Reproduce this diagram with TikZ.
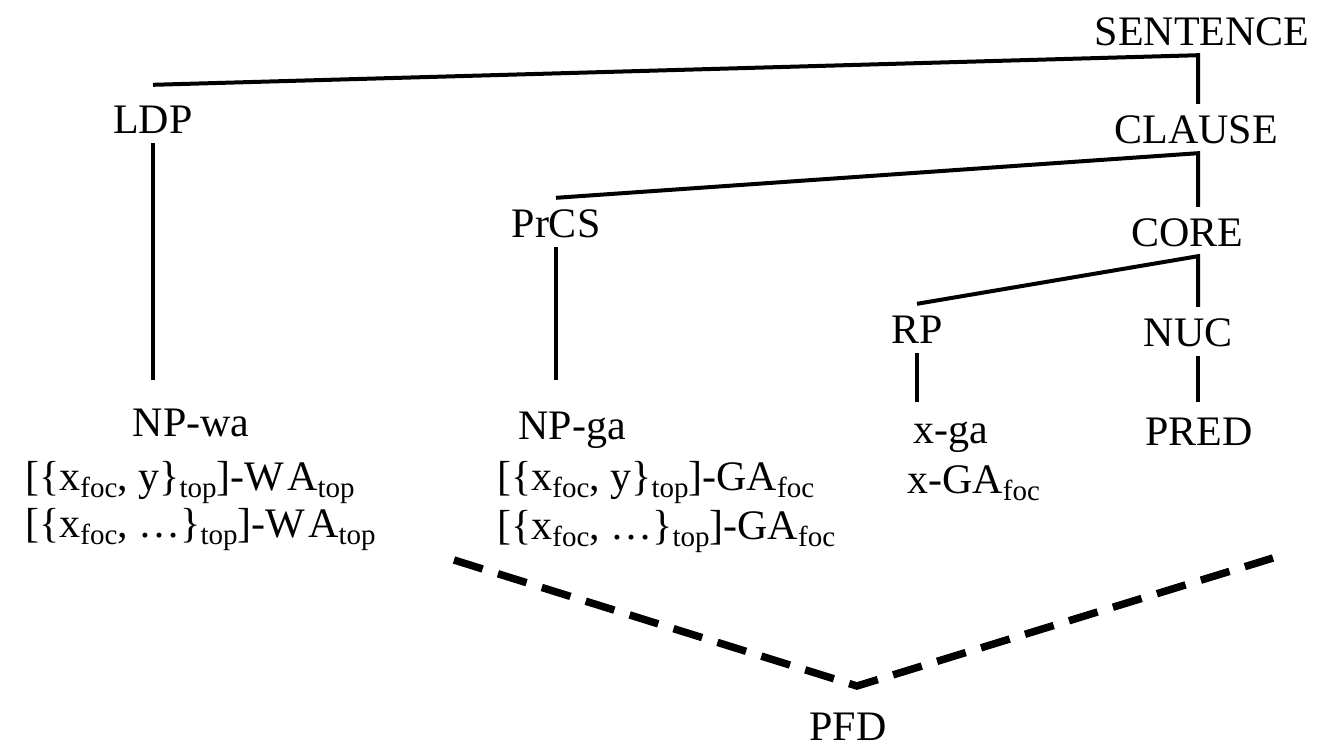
\documentclass[tikz,border=0pt]{standalone}
\usepackage{fontspec}
\setmainfont{Liberation Serif}
% lowered, smaller text for the subscripts (foc, top)
\newcommand\lowsub[1]{\raisebox{-7pt}{\fontsize{29}{32}\selectfont #1}}
\begin{document}
\begin{tikzpicture}[x=1pt,y=-1pt,
  every node/.style={font=\fontsize{42}{50}\selectfont, inner sep=0pt},
  cat/.style={text height=29pt, text depth=0pt, inner xsep=2pt, inner ysep=10pt, anchor=base},
  leaf/.style={text height=29pt, text depth=0pt, inner xsep=2pt, anchor=base},
  row/.style={anchor=base west},
  branch/.style={line width=4pt},
  focusline/.style={line width=7.5pt, dash pattern=on 30pt off 16pt}
]
\useasboundingbox (0,0) rectangle (1317,748);
\fill[white] (0,0) rectangle (1317,748);
\coordinate (axis) at (1198,0);

% syntactic categories
\node[cat] (sentence) at (1202,45)  {SENTENCE};
\node[cat] (clause)   at (1196,143) {CLAUSE};
\node[cat] (ldp)      at (153,133)  {LDP};
\node[cat] (prcs)     at (556,237)  {PrCS};
\node[cat] (core)     at (1187,246) {CORE};
\node[cat] (rp)       at (917,343)  {RP};
\node[cat] (nuc)      at (1188,346) {NUC};

% terminal elements
\node[leaf, inner ysep=27pt] (npwa) at (191,436)  {NP-wa};
\node[leaf, inner ysep=30pt] (npga) at (572,439)  {NP-ga};
\node[leaf, inner ysep=12pt] (xga)  at (951,443)  {x-ga};
\node[leaf, inner ysep=14pt] (pred) at (1199,445) {PRED};

% feature annotations
\node[row] (wa1)  at (25,490)  {[\{x\lowsub{foc}, y\}\lowsub{top}]-W\kern3pt A\lowsub{top}};
\node[row] (wa2)  at (25,537)  {[\{x\lowsub{foc}, …\}\lowsub{top}]-W\kern3pt A\lowsub{top}};
\node[row] (ga1)  at (497,490) {[\{x\lowsub{foc}, y\}\lowsub{top}]-GA\lowsub{foc}};
\node[row] (ga2)  at (497,539) {[\{x\lowsub{foc}, …\}\lowsub{top}]-GA\lowsub{foc}};
\node[row] (xga2) at (907,493) {x-GA\lowsub{foc}};

% tree branches
\draw[branch] ([yshift=9pt]ldp.north) -- (sentence.south -| axis) -- (clause.north -| axis);
\draw[branch] (prcs.north) -- (clause.south -| axis) -- (core.north -| axis);
\draw[branch] (rp.north) -- (core.south -| axis) -- (nuc.north -| axis);
\draw[branch] (ldp.south) -- (ldp.south |- npwa.north);
\draw[branch] (prcs.south) -- (prcs.south |- npga.north);
\draw[branch] (rp.south) -- (rp.south |- xga.north);
\draw[branch] (nuc.south -| axis) -- (axis |- pred.north);

% potential focus domain
\node[anchor=base] (pfd) at (848,740) {PFD};
\coordinate (dl) at (454,560);
\coordinate (dv) at (857,686);
\coordinate (dr) at (1273,558);
\draw[focusline] (dl) -- (dv) -- (dr);
\end{tikzpicture}
\end{document}
